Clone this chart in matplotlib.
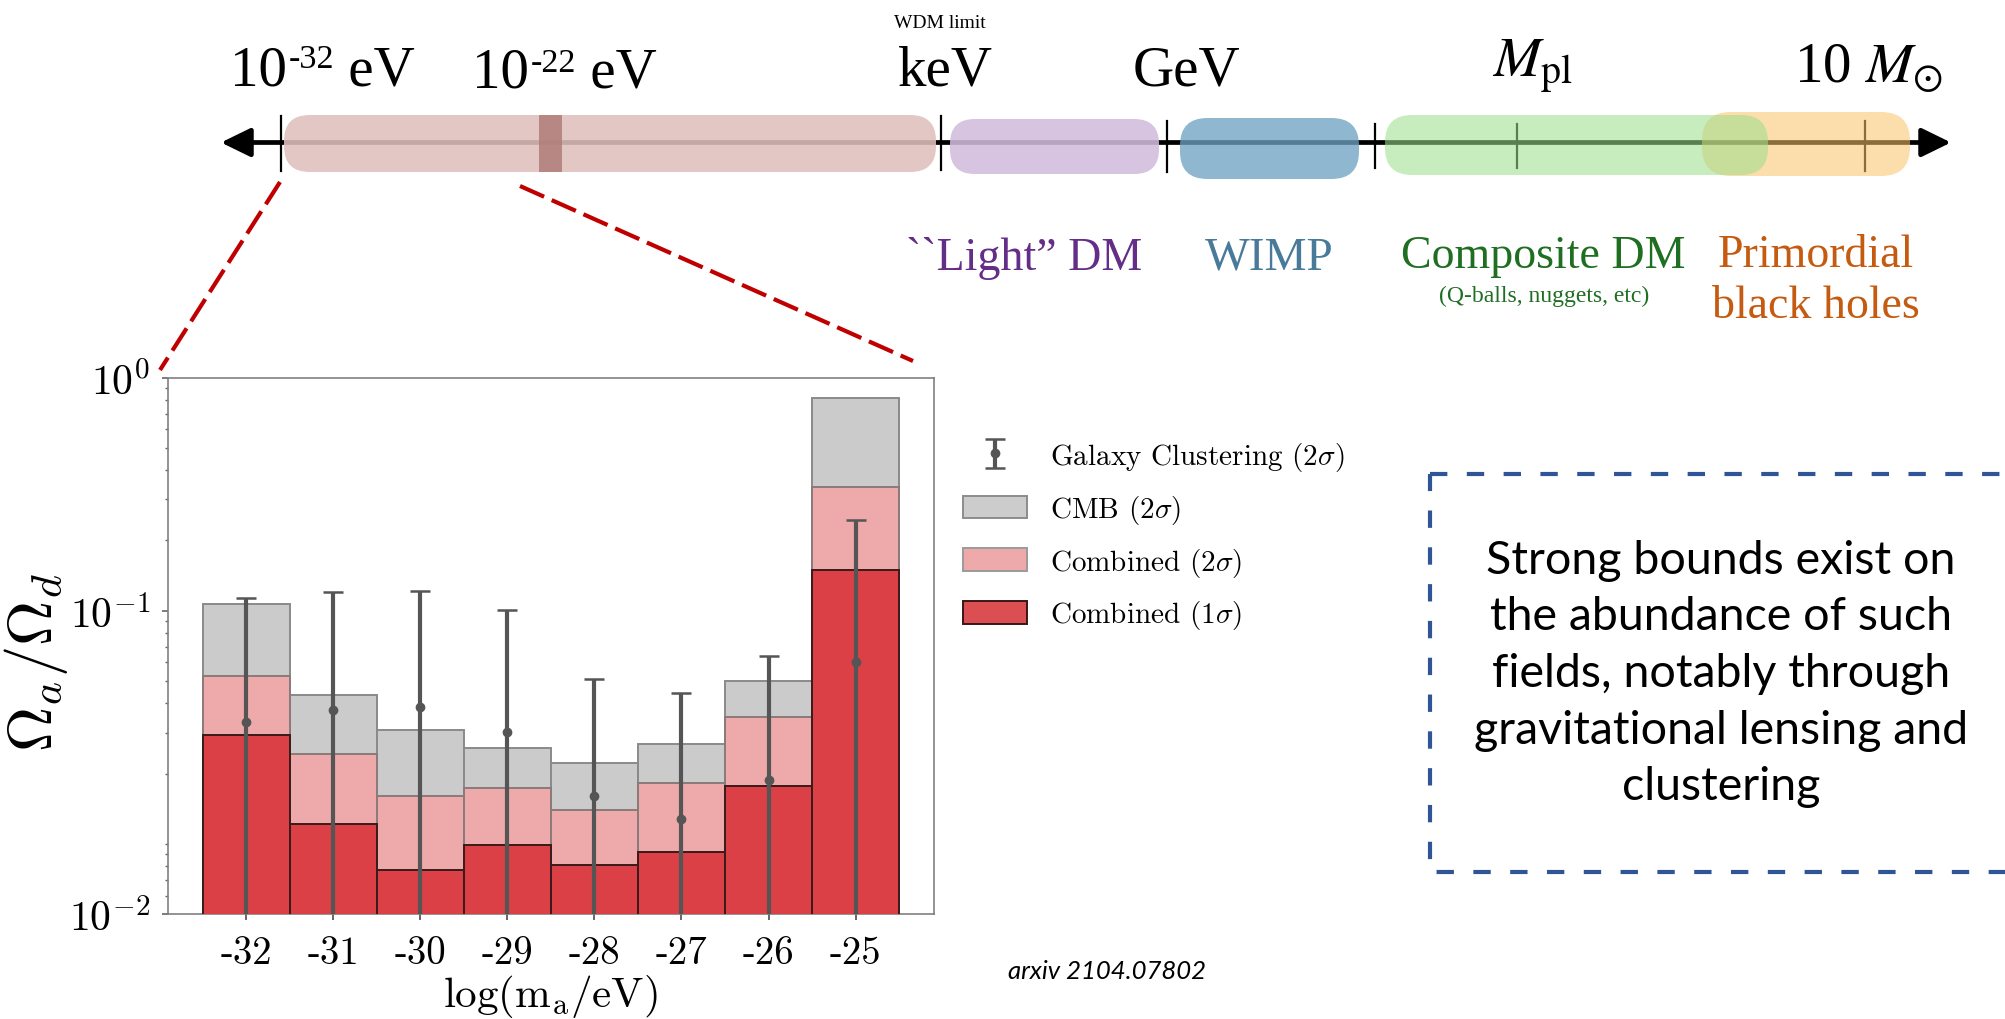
import matplotlib
matplotlib.use('Agg')
import matplotlib.pyplot as plt
import numpy as np
from matplotlib.patches import FancyBboxPatch, Rectangle, Patch
from matplotlib.ticker import LogLocator, NullFormatter

plt.rcParams['mathtext.fontset'] = 'cm'
plt.rcParams['axes.unicode_minus'] = False
plt.rcParams['lines.scale_dashes'] = False

# ---------------- data ----------------
log_mass = [-32, -31, -30, -29, -28, -27, -26, -25]
mass_labels = ['-32', '-31', '-30', '-29', '-28', '-27', '-26', '-25']
cmb_2sigma = [0.107, 0.0433, 0.0308, 0.0257, 0.0222, 0.0269, 0.0498, 0.814]
combined_2sigma = [0.0526, 0.0242, 0.0160, 0.01735, 0.01395, 0.01825, 0.0351, 0.339]
combined_1sigma = [0.0292, 0.01222, 0.00774, 0.00989, 0.00815, 0.00919, 0.01766, 0.150]
galaxy_central = [0.0333, 0.0374, 0.0385, 0.0303, 0.01603, 0.01282, 0.01877, 0.0600]
galaxy_upper = [0.113, 0.1207, 0.1215, 0.1008, 0.0509, 0.0443, 0.0637, 0.244]
galaxy_lower = [1e-4] * 8
ytick_values = [0.005, 0.1, 1.0]
ytick_labels = [r'$10^{-2}$', r'$10^{-1}$', r'$10^{0}$']
legend_labels = [r'Galaxy Clustering (2$\sigma$)', r'CMB (2$\sigma$)',
                 r'Combined (2$\sigma$)', r'Combined (1$\sigma$)']

W, H = 2006, 1020
fig = plt.figure(figsize=(W / 100, H / 100), dpi=100)
fig.patch.set_facecolor('white')

# background canvas in pixel units for the schematic elements
bg = fig.add_axes([0, 0, 1, 1], zorder=0)
bg.set_xlim(0, W)
bg.set_ylim(H, 0)
bg.axis('off')

serif = ['Liberation Serif', 'DejaVu Serif']

# ---------------- timeline ----------------
bg.annotate('', xy=(221, 143.5), xytext=(1951, 143.5),
            arrowprops=dict(arrowstyle='<|-|>,head_length=0.45,head_width=0.22',
                            mutation_scale=40, lw=3.4, color='black',
                            shrinkA=0, shrinkB=0), zorder=1)
for xt, y0, y1 in [(280.6, 117, 172), (940.7, 117, 171), (1167, 122, 173),
                   (1375, 125, 169), (1517, 125, 169), (1865, 122, 172)]:
    bg.plot([xt, xt], [y0, y1], color='black', lw=1.6, zorder=1.5)

pills = [
    (284, 936, 116, 173, '#E0C0BC', 0.88),
    (950, 1159, 120, 175, '#D2BCDD', 0.88),
    (1180, 1359, 119, 180, '#6EA2C2', 0.77),
    (1702, 1910, 113, 177, '#FAC46B', 0.56),
    (1385, 1768, 116, 176, '#9EDF8C', 0.57),
]
for i, (x0, x1, y0, y1, c, a) in enumerate(pills):
    h = y1 - y0
    p = FancyBboxPatch((x0, y0), x1 - x0, h,
                       boxstyle=f'round,pad=0,rounding_size={0.45 * h}',
                       fc=c, ec='none', alpha=a, zorder=2 + i * 0.1)
    bg.add_patch(p)
bg.add_patch(Rectangle((539, 116), 23, 57, fc='#B07C78', ec='none', alpha=0.85, zorder=2.05))


def sup_label(x, y, base, sup, tail, size):
    t1 = bg.text(x, y, base, fontsize=size, family=serif, ha='left', va='baseline', zorder=5)
    t2 = bg.annotate(sup, xy=(1, 1), xycoords=t1, xytext=(1, 0), textcoords='offset points',
                     ha='left', va='top', fontsize=size * 0.6, family=serif, zorder=5)
    bg.annotate(tail, xy=(1, 0), xycoords=(t2, t1), ha='left', va='bottom',
                fontsize=size, family=serif, zorder=5)


sup_label(230, 85, '10', '-32', ' eV', 41)
sup_label(472, 88, '10', '-22', ' eV', 41)
bg.text(940, 28, 'WDM limit', fontsize=14, family=serif, ha='center', va='baseline')
bg.text(945, 85, 'keV', fontsize=41, family=serif, ha='center', va='baseline')
bg.text(1186, 85, 'GeV', fontsize=41, family=serif, ha='center', va='baseline')
bg.text(1532, 77, r'$M_{\rm pl}$', fontsize=41, family=serif, math_fontfamily='stix',
        ha='center', va='baseline')
bg.text(1869, 81, r'10 $M_{\odot}$', fontsize=41, family=serif, math_fontfamily='stix',
        ha='center', va='baseline')

bg.text(1024, 270, '``Light\u201d DM', fontsize=33, family=serif, color='#642D87',
        ha='center', va='baseline')
bg.text(1269, 270, 'WIMP', fontsize=34, family=serif, color='#4A7A9A', ha='center', va='baseline')
bg.text(1543, 268, 'Composite DM', fontsize=33, family=serif, color='#1F6E22',
        ha='center', va='baseline')
bg.text(1544, 302, '(Q-balls, nuggets, etc)', fontsize=17, family=serif, color='#1F6E22',
        ha='center', va='baseline')
bg.text(1816, 267, 'Primordial', fontsize=33, family=serif, color='#C55A11',
        ha='center', va='baseline')
bg.text(1816, 318, 'black holes', fontsize=33, family=serif, color='#C55A11',
        ha='center', va='baseline')

# zoom lines
bg.plot([280, 160], [183, 371], color='#C00000', lw=3.0, dashes=(19, 6), zorder=1)
bg.plot([520, 913], [187, 362], color='#C00000', lw=3.0, dashes=(19, 6), zorder=1)

# text box
bg.add_patch(Rectangle((1430, 475), 640, 398, fill=False, ec='#2F5597', lw=3.0,
                       linestyle=(0, (12.5, 14)), zorder=1))
bg.text(1721, 674, 'Strong bounds exist on\nthe abundance of such\nfields, notably through\n'
        'gravitational lensing and\nclustering', fontsize=33.5, family=['Lato', 'DejaVu Sans'],
        ha='center', va='center', linespacing=1.43)

bg.text(1107, 979, 'arxiv 2104.07802', fontsize=18.5, family=['Lato', 'DejaVu Sans'],
        style='italic', ha='center', va='baseline')

# ---------------- chart ----------------
ax = fig.add_axes([167.7 / W, 1 - 915 / H, (934 - 167.7) / W, (915 - 378.5) / H], zorder=1)
ax.set_yscale('log')
ax.bar(log_mass, cmb_2sigma, width=1.0, color='#CBCBCB', edgecolor='#8A8A8A', lw=1.4, zorder=1)
ax.bar(log_mass, combined_2sigma, width=1.0, color='#EEA9AB', edgecolor='#8A7A7A', lw=1.4, zorder=2)
ax.bar(log_mass, combined_1sigma, width=1.0, color='#DA4045', edgecolor='#3A1A1A', lw=1.4, zorder=3)
yerr = [np.array(galaxy_central) - np.array(galaxy_lower),
        np.array(galaxy_upper) - np.array(galaxy_central)]
eb = ax.errorbar(log_mass, galaxy_central, yerr=yerr, fmt='o', color='#555555', ms=6,
                 elinewidth=3.0, capsize=7, capthick=1.8, zorder=4)
ax.set_xlim(-32.9, -24.1)
ax.set_ylim(0.005, 1.0)
ax.set_xticks(log_mass, mass_labels)
ax.set_yticks(ytick_values, ytick_labels)
ax.yaxis.set_minor_locator(LogLocator(base=10, subs=np.arange(1, 10) * 1.0, numticks=30))
ax.yaxis.set_minor_formatter(NullFormatter())
for lab in ax.get_xticklabels():
    lab.set_family('cmr10')
    lab.set_fontsize(28)
for lab in ax.get_yticklabels():
    lab.set_fontsize(30)
ax.tick_params(axis='x', which='major', direction='out', length=4, width=1.4, color='#666666', pad=11)
ax.tick_params(axis='y', which='major', direction='out', length=4.5, width=1.2, color='#666666', pad=8)
ax.tick_params(axis='y', which='minor', direction='out', length=2.5, width=1.0, color='#666666')
for s in ax.spines.values():
    s.set_color('#808080')
    s.set_linewidth(1.2)
ax.set_ylabel(r'$\Omega_a/\Omega_d$', fontsize=45)
ax.yaxis.set_label_coords(-0.127, 0.47)
ax.set_xlabel(r'log(m$_{\rm a}$/eV)', fontsize=31, family='cmr10')
ax.xaxis.set_label_coords(0.5, -0.108)

handles = [eb,
           Patch(fc='#CCCCCC', ec='#8C8C8C', lw=1.4),
           Patch(fc='#EEA9AB', ec='#9A9A9A', lw=1.4),
           Patch(fc='#DB4F52', ec='#3B1516', lw=1.4)]
fig.legend(handles, legend_labels, loc='upper left', bbox_to_anchor=(963 / W, 1 - 441 / H),
           frameon=False, borderpad=0, borderaxespad=0, prop={'family': 'cmr10', 'size': 21},
           handlelength=2.2, handleheight=0.8, handletextpad=0.8, labelspacing=0.68)

fig.savefig('out.png', dpi=100)
